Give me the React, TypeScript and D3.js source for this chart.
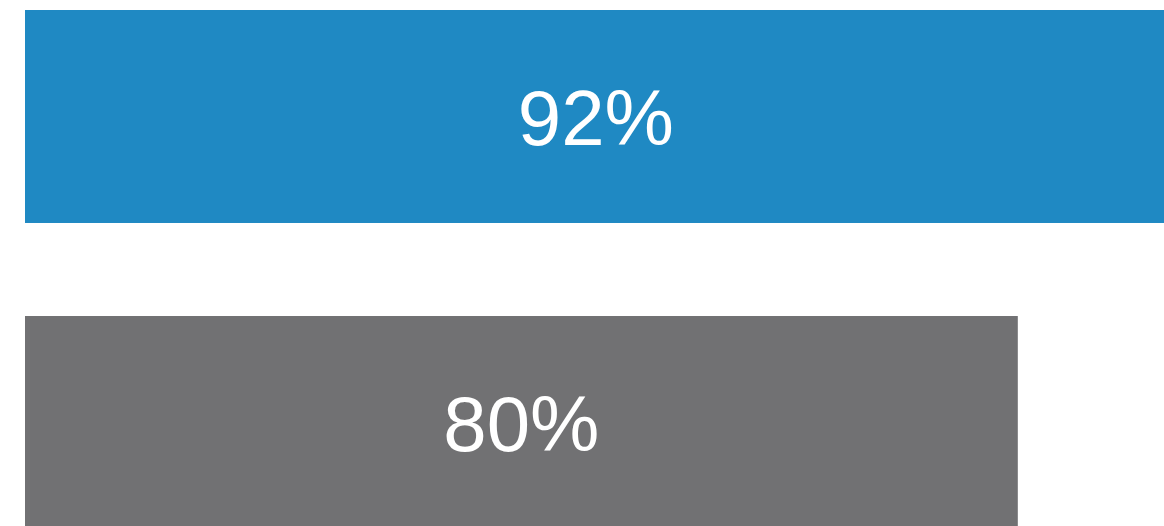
import React from "react";
import * as d3 from "d3";

const categories = ["Series A", "Series B"];
const values = [92, 80];
const barColors = ["#1f89c3", "#717173"];

const W = 1164;
const H = 526;

export default function App() {
  const x = d3.scaleLinear().domain([0, 100]).range([25, 25 + 1241]);
  const y = d3
    .scaleBand<string>()
    .domain(categories)
    .range([10, 529])
    .paddingInner(0.304)
    .paddingOuter(0);

  return (
    <svg
      width={W}
      height={H}
      style={{ position: "absolute", left: 0, top: 0, display: "block", background: "#ffffff" }}
    >
      {categories.map((c, i) => {
        const x0 = x(0);
        const x1 = x(values[i]);
        const y0 = y(c)!;
        const bh = y.bandwidth();
        return (
          <g key={c}>
            <rect x={x0} y={y0} width={x1 - x0} height={bh} fill={barColors[i]} />
            <text
              x={(x0 + x1) / 2}
              y={y0 + bh / 2}
              dy="0.36em"
              textAnchor="middle"
              fill="#ffffff"
              fontFamily="'Liberation Sans', Arial, sans-serif"
              fontSize={78}
            >
              {values[i]}%
            </text>
          </g>
        );
      })}
    </svg>
  );
}
